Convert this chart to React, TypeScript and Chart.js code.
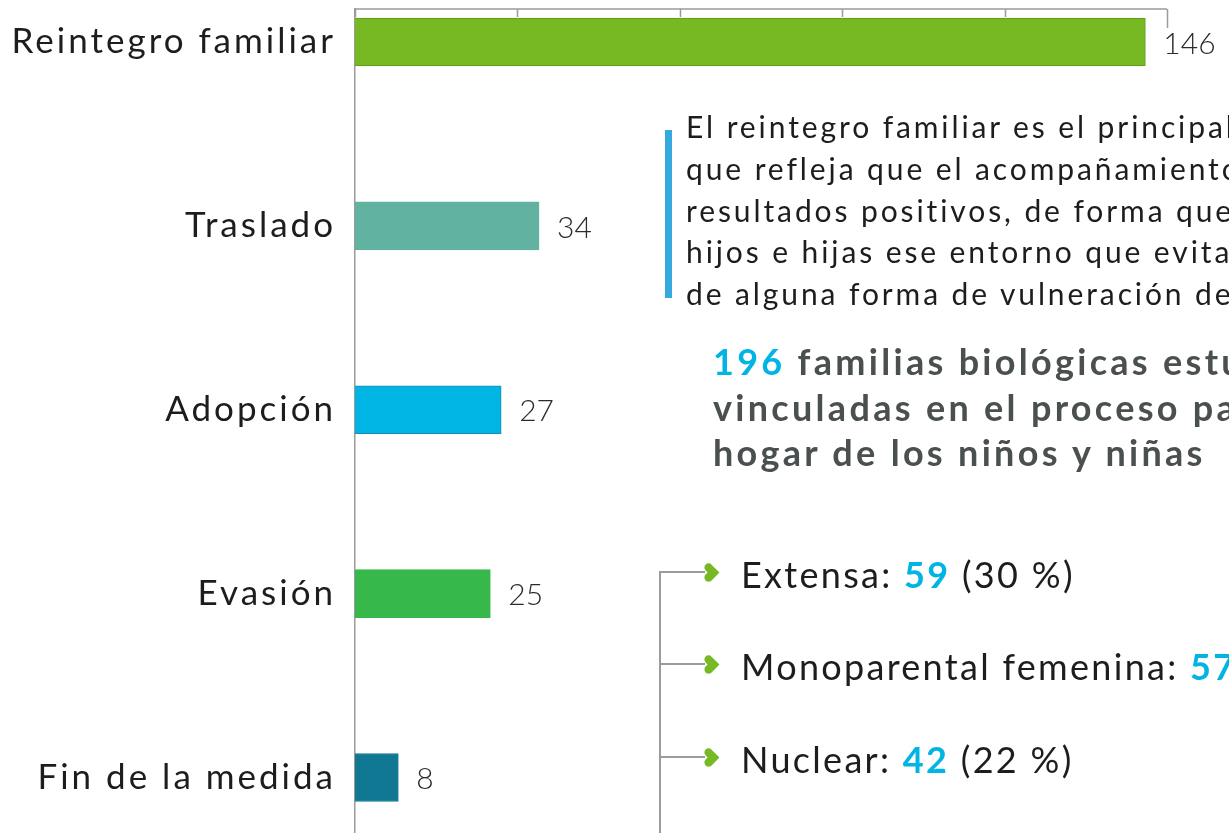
import React, { useEffect, useRef } from "react";
import { Chart, registerables } from "chart.js";

Chart.register(...registerables);

const categories = ["Reintegro familiar", "Traslado", "Adopción", "Evasión", "Fin de la medida"];
const values = [146, 34, 27, 25, 8];
const barColors = ["#76b923", "#62b2a2", "#00b4e4", "#36b84a", "#117893"];
const barBorders = ["#5b9a1e", "#62b2a2", "#1b8db0", "#36b84a", "#117893"];
const xTicks = [0, 30, 60, 90, 120, 150];

const paragraphLines = [
  "El reintegro familiar es el principal motivo",
  "que refleja que el acompañamiento",
  "resultados positivos, de forma que",
  "hijos e hijas ese entorno que evita",
  "de alguna forma de vulneración de",
];
const headingNumber = "196";
const headingLines = [
  " familias biológicas estuvieron",
  "vinculadas en el proceso para",
  "hogar de los niños y niñas",
];
const familyTypes = ["Extensa", "Monoparental femenina", "Nuclear"];
const familyCounts = [59, 57, 42];
const familyPercents = [30, 29, 22];

const FONT = "Lato, 'Open Sans', sans-serif";
const LABEL_SPACING = 3;

const spacingPlugin = {
  id: "labelSpacing",
  beforeDraw(chart: any) {
    chart.ctx.letterSpacing = `${LABEL_SPACING}px`;
  },
  beforeDatasetsDraw(chart: any) {
    chart.ctx.letterSpacing = "0px";
  },
};

const topAxisPlugin = {
  id: "topAxis",
  afterDraw(chart: any) {
    const { ctx, chartArea, scales } = chart;
    const xs = scales.x;
    const y0 = chartArea.top;
    ctx.save();
    ctx.strokeStyle = "#9b9b9b";
    ctx.lineWidth = 1.5;
    ctx.beginPath();
    ctx.moveTo(xs.getPixelForValue(xTicks[0]), y0);
    ctx.lineTo(xs.getPixelForValue(xTicks[xTicks.length - 1]), y0);
    xTicks.forEach((t, i) => {
      const px = Math.round(xs.getPixelForValue(t)) + 0.5;
      const len = i === xTicks.length - 1 ? 19 : 8;
      ctx.moveTo(px, y0);
      ctx.lineTo(px, y0 + len);
    });
    ctx.stroke();
    ctx.restore();
  },
};

const valueLabelPlugin = {
  id: "valueLabels",
  afterDatasetsDraw(chart: any) {
    const { ctx } = chart;
    const meta = chart.getDatasetMeta(0);
    ctx.save();
    ctx.letterSpacing = "0px";
    ctx.fillStyle = "#2b2b2b";
    ctx.font = `300 30px ${FONT}`;
    ctx.textAlign = "left";
    ctx.textBaseline = "middle";
    meta.data.forEach((bar: any, i: number) => {
      ctx.fillText(String(values[i]), bar.x + 18, bar.y + 2);
    });
    ctx.restore();
  },
};

function Marker({ top }: { top: number }) {
  return (
    <svg
      width={18}
      height={19}
      viewBox="0 0 16 16"
      style={{ position: "absolute", left: 702, top: top - 9.5 }}
    >
      <path
        d="M15.5 8 L8.5 15 A3.6 3.6 0 0 1 3.2 9.8 L5 8 L3.2 6.2 A3.6 3.6 0 0 1 8.5 1 Z"
        fill="#76b923"
      />
    </svg>
  );
}

export default function App() {
  const canvasRef = useRef<HTMLCanvasElement | null>(null);

  useEffect(() => {
    if (!canvasRef.current) return;
    const chart = new Chart(canvasRef.current, {
      type: "bar",
      data: {
        datasets: [
          {
            data: values.map((v, i) => ({ x: v, y: i })) as any,
            backgroundColor: barColors,
            borderColor: barBorders,
            borderWidth: 1,
            barThickness: 48,
          },
        ],
      },
      options: {
        indexAxis: "y",
        animation: false,
        responsive: false,
        maintainAspectRatio: false,
        layout: { padding: { left: 0, right: 62, top: 9, bottom: 0 } },
        plugins: { legend: { display: false }, tooltip: { enabled: false } },
        scales: {
          x: { type: "linear", display: false, min: 0, max: 150 },
          y: {
            type: "linear",
            reverse: true,
            offset: false,
            min: -0.1795,
            max: 4.3018,
            afterBuildTicks: (s: any) => {
              s.ticks = categories.map((_, i) => ({ value: i }));
            },
            afterFit: (s: any) => {
              s.width = 355;
              s.paddingTop = 0;
              s.paddingBottom = 0;
            },
            grid: { display: false, drawTicks: false, offset: false },
            border: { display: true, color: "#9b9b9b", width: 1.5 },
            ticks: {
              padding: 22 - LABEL_SPACING,
              autoSkip: false,
              color: "#1d1d1b",
              font: { family: FONT, size: 35 },
              callback: (v: any) => categories[v] ?? "",
            },
          },
        },
      } as any,
      plugins: [spacingPlugin, topAxisPlugin, valueLabelPlugin],
    });
    return () => chart.destroy();
  }, []);

  const itemCenters = [572, 664, 757];

  return (
    <div
      style={{
        position: "absolute",
        left: 0,
        top: 0,
        width: 1229,
        height: 833,
        overflow: "hidden",
        background: "#ffffff",
        fontFamily: FONT,
      }}
    >
      <canvas ref={canvasRef} width={1229} height={833} style={{ position: "absolute", left: 0, top: 0 }} />

      <div style={{ position: "absolute", left: 665, top: 130, width: 7, height: 168, background: "#36a9e1" }} />
      <div
        style={{
          position: "absolute",
          left: 686,
          top: 106,
          fontSize: 30,
          letterSpacing: "2.9px",
          lineHeight: "41.75px",
          color: "#1d1d1b",
          whiteSpace: "nowrap",
        }}
      >
        {paragraphLines.map((l, i) => (
          <div key={i}>{l}</div>
        ))}
      </div>

      <div
        style={{
          position: "absolute",
          left: 713,
          top: 339,
          fontSize: 36,
          fontWeight: 700,
          letterSpacing: "3.3px",
          lineHeight: "45.5px",
          color: "#4a4f4f",
          whiteSpace: "nowrap",
        }}
      >
        {headingLines.map((l, i) => (
          <div key={i}>
            {i === 0 && <span style={{ color: "#00b4e4" }}>{headingNumber}</span>}
            {l}
          </div>
        ))}
      </div>

      <div style={{ position: "absolute", left: 659, top: itemCenters[0], width: 1.5, height: 300, background: "#9b9b9b" }} />
      {familyTypes.map((t, i) => (
        <React.Fragment key={t}>
          <div
            style={{
              position: "absolute",
              left: 659,
              top: itemCenters[i] - 0.75,
              width: 46,
              height: 1.5,
              background: "#9b9b9b",
            }}
          />
          <Marker top={itemCenters[i]} />
          <div
            style={{
              position: "absolute",
              left: 741,
              top: itemCenters[i] - 20,
              height: 44,
              lineHeight: "44px",
              fontSize: 36,
              letterSpacing: "2.3px",
              color: "#1d1d1b",
              whiteSpace: "nowrap",
            }}
          >
            {t}: <span style={{ color: "#00b4e4", fontWeight: 700 }}>{familyCounts[i]}</span> ({familyPercents[i]} %)
          </div>
        </React.Fragment>
      ))}
    </div>
  );
}
